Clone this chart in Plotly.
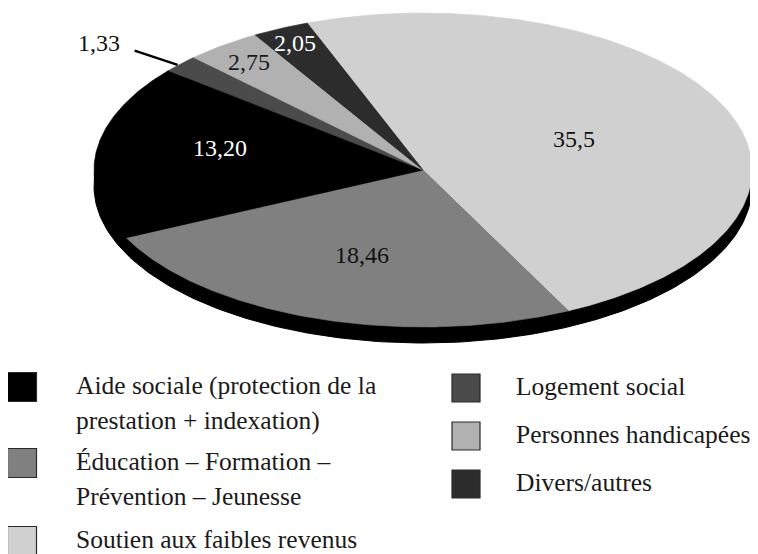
import numpy as np
import plotly.graph_objects as go

# ---------------- data ----------------
categories = [
    "Soutien aux faibles revenus",
    "Éducation – Formation –<br>Prévention – Jeunesse",
    "Aide sociale (protection de la<br>prestation + indexation)",
    "Logement social",
    "Personnes handicapées",
    "Divers/autres",
]
values = [35.5, 18.46, 13.20, 1.33, 2.75, 2.05]
value_labels = ["35,5", "18,46", "13,20", "1,33", "2,75", "2,05"]

# ---------------- styles ----------------
colors = ["#d0d0d0", "#808080", "#000000", "#4b4b4b", "#b1b1b1", "#2c2c2c"]
label_colors = ["#111111", "#111111", "#ffffff", "#111111", "#1a1a1a", "#ffffff"]
label_radius = [0.5, 0.57, 0.62, 1.3, 0.87, 0.9]
label_dy = [0, 0, -10, 0, 0, 0]
outside = [False, False, False, True, False, False]

legend_left = [2, 1, 0]
legend_right = [3, 4, 5]

CX, CY = 423.0, 170.0
RX, RY = 329.0, 157.0
DEPTH = 16.0
START = -20.6  # degrees, clockwise from top
FONT = "Liberation Serif"
PAGE_OFF = 8  # default body margin of the html page
W, H = 758, 554


def pt(theta_deg, f=1.0):
    t = np.radians(theta_deg)
    return CX + RX * f * np.sin(t), CY - RY * f * np.cos(t)


fig = go.Figure()

# shadow / side of the disc
tt = np.linspace(0, 360, 361)
sx, sy = pt(tt)
fig.add_trace(go.Scatter(x=sx, y=sy + DEPTH, mode="lines", fill="toself",
                         fillcolor="#000000", line=dict(color="#000000", width=1),
                         hoverinfo="skip", showlegend=False))

total = sum(values)
angle = START
mids = []
for v, c in zip(values, colors):
    span = 360.0 * v / total
    th = np.linspace(angle, angle + span, max(int(span * 2), 3))
    ax, ay = pt(th)
    xs = np.concatenate([[CX], ax, [CX]])
    ys = np.concatenate([[CY], ay, [CY]])
    fig.add_trace(go.Scatter(x=xs, y=ys, mode="lines", fill="toself",
                             fillcolor=c, line=dict(color=c, width=0.6),
                             hoverinfo="skip", showlegend=False))
    mids.append(angle + span / 2)
    angle += span

# value labels
for i, (m, lab) in enumerate(zip(mids, value_labels)):
    if outside[i]:
        x0, y0 = pt(m, 1.0)
        x1, y1 = pt(m, 1.19)
        fig.add_trace(go.Scatter(x=[x0 - 3, x1], y=[y0 + 1, y1 + 7], mode="lines",
                                 line=dict(color="#000000", width=2.5),
                                 hoverinfo="skip", showlegend=False))
        fig.add_annotation(x=x1 - 13, y=y1 - 1, text=lab, showarrow=False,
                           xanchor="right", yanchor="middle",
                           font=dict(family=FONT, size=24, color=label_colors[i]))
    else:
        x, y = pt(m, label_radius[i])
        fig.add_annotation(x=x, y=y + label_dy[i], text=lab, showarrow=False,
                           xanchor="center", yanchor="middle",
                           font=dict(family=FONT, size=24, color=label_colors[i]))

# legend (drawn manually, two columns)
def legend_column(indices, x_sq, x_txt, y_centers, sq):
    for idx, yc in zip(indices, y_centers):
        fig.add_trace(go.Scatter(x=[x_sq], y=[yc], mode="markers",
                                 marker=dict(symbol="square", size=sq, color=colors[idx],
                                             line=dict(color="#2a2a2a", width=1.2)),
                                 hoverinfo="skip", showlegend=False))
        for j, line in enumerate(categories[idx].split("<br>")):
            fig.add_annotation(x=x_txt, y=yc - 2 + j * 35, text=line, showarrow=False,
                               xanchor="left", yanchor="middle",
                               font=dict(family=FONT, size=25.5, color="#1a1a1a"))

legend_column(legend_left, 22, 74, [387, 463, 541], 29)
legend_column(legend_right, 466, 514, [388, 436, 484], 28)

fig.update_layout(
    width=W - PAGE_OFF, height=H - PAGE_OFF,
    margin=dict(l=0, r=0, t=0, b=0),
    paper_bgcolor="white", plot_bgcolor="white",
    xaxis=dict(range=[PAGE_OFF, W], visible=False, fixedrange=True),
    yaxis=dict(range=[H, PAGE_OFF], visible=False, fixedrange=True),
    showlegend=False,
)

fig.write_html("out.html")
